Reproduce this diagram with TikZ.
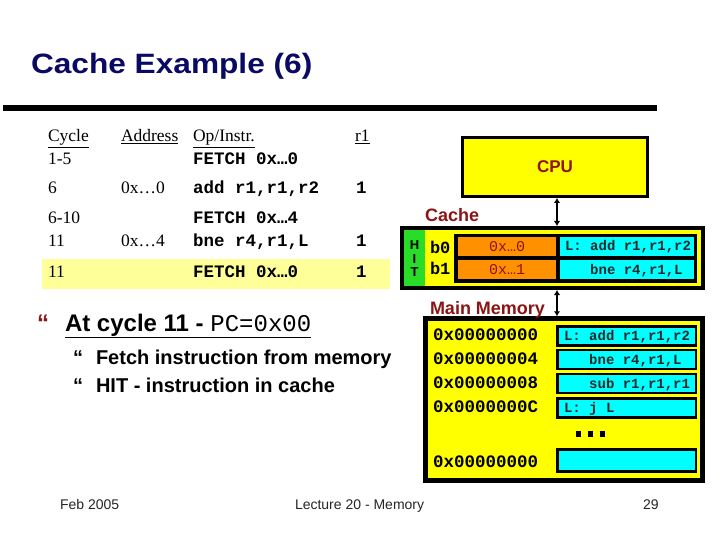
\documentclass[tikz,border=0pt]{standalone}
\usepackage{fontspec}
\setmainfont{Liberation Serif}
\setsansfont{Liberation Sans}
\setmonofont{Liberation Mono}
\newfontfamily\titlefont{Liberation Sans}[FakeStretch=1.13]
\usetikzlibrary{arrows.meta}
\definecolor{navy}{RGB}{10,10,100}
\definecolor{dred}{RGB}{140,20,20}
\definecolor{ylw}{RGB}{255,255,0}
\definecolor{pale}{RGB}{255,255,153}
\definecolor{cyn}{RGB}{0,255,255}
\definecolor{orng}{RGB}{255,145,0}
\definecolor{grn}{RGB}{40,220,40}
\definecolor{celltxt}{RGB}{40,40,40}
\newcommand{\fsz}[1]{\fontsize{#1}{#1}\selectfont}
\begin{document}
\begin{tikzpicture}[x=1pt,y=-1pt,
  txt/.style={anchor=base west, inner sep=0pt, outer sep=0pt},
  ser/.style={txt, font=\fsz{17.5}\rmfamily},
  mono/.style={txt, font=\fsz{17.5}\ttfamily\bfseries},
  bul/.style={txt, font=\fsz{20}\sffamily\bfseries},
  foot/.style={txt, font=\fsz{14}\sffamily, text=black!85},
  lbl/.style={txt, font=\fsz{18}\sffamily\bfseries, text=dred},
  blk/.style={draw=black, line width=#1},
  cell/.style={draw=black, line width=2.5pt, fill=cyn, minimum width=138.5, minimum height=19, inner sep=0pt},
  ctext/.style={txt, font=\fsz{14}\ttfamily\bfseries, text=celltxt},
  addr/.style={txt, font=\fsz{17.5}\ttfamily\bfseries},
  dbl/.style={line width=2.5pt, {Latex[length=5pt,width=6.5pt]}-{Latex[length=5pt,width=6.5pt]}},
]
\useasboundingbox[fill=white] (0,0) rectangle (720,540);

% title and rule
\node[txt, font=\fsz{28}\titlefont\bfseries, text=navy] (title) at (31,73.5) {Cache Example (6)};
\fill[black] (3,105) rectangle (657,111);

% highlighted row
\fill[pale] (42,259) rectangle (390,289);

% table
\node[ser] (hc) at (48,142) {\underline{Cycle}};
\node[ser] (ha) at (121,142) {\underline{Address}};
\node[ser] (ho) at (193,142) {\underline{Op/Instr.}};
\node[ser] (hr) at (355,142) {\underline{r1}};

\node[ser] (c1) at (48,165) {1-5};
\node[mono] (o1) at (193,165) {FETCH 0x…0};

\node[ser] (c2) at (48,194) {6};
\node[ser] (a2) at (121,194) {0x…0};
\node[mono] (o2) at (193,194) {add r1,r1,r2};
\node[mono] (r2) at (356,194) {1};

\node[ser] (c3) at (48,223) {6-10};
\node[mono] (o3) at (193,223) {FETCH 0x…4};

\node[ser] (c4) at (48,247) {11};
\node[ser] (a4) at (121,247) {0x…4};
\node[mono] (o4) at (193,247) {bne r4,r1,L};
\node[mono] (r4) at (356,247) {1};

\node[ser] (c5) at (48,277) {11};
\node[mono] (o5) at (193,277) {FETCH 0x…0};
\node[mono] (r5) at (356,277) {1};

% bullets
\node[txt, font=\fsz{24}\sffamily\bfseries, text=dred] (m0) at (37,331) {“};
\node[txt, font=\fsz{24}\sffamily\bfseries] (b0) at (65,331) {\underline{At cycle 11 - {\mdseries\ttfamily PC=0x00}}};
\node[txt, font=\fsz{20}\sffamily\bfseries] (m1) at (73,364) {“};
\node[bul] (b1) at (96,364) {Fetch instruction from memory};
\node[txt, font=\fsz{20}\sffamily\bfseries] (m2) at (73,392) {“};
\node[bul] (b2) at (96,392) {HIT - instruction in cache};

% CPU
\node[blk=3pt, fill=ylw, minimum width=185, minimum height=59, inner sep=0pt,
      font=\fsz{17}\sffamily\bfseries, text=dred] (cpu) at (555,167) {CPU};

% Cache
\node[lbl] (cachelbl) at (425,222) {Cache};
\node[blk=4pt, fill=ylw, minimum width=301, minimum height=60, inner sep=0pt] (cache) at (552.5,258) {};
\node[fill=grn, minimum width=21, minimum height=56, inner sep=0pt] (hit) at (414.5,258) {};
\node[font=\fsz{13}\sffamily\bfseries, inner sep=0pt] (hH) at (414.5,245.5) {H};
\node[font=\fsz{13}\sffamily\bfseries, inner sep=0pt] (hI) at (414.5,259) {I};
\node[font=\fsz{13}\sffamily\bfseries, inner sep=0pt] (hT) at (414.5,272.5) {T};
\node[fill=black, minimum width=243, minimum height=49, inner sep=0pt] (lines) at (575.5,258.5) {};
\node[fill=orng, minimum width=98, minimum height=19, inner sep=0pt,
      font=\fsz{15}\ttfamily, text=dred] (tag0) at (507,246.5) {0x…0};
\node[fill=orng, minimum width=98, minimum height=19, inner sep=0pt,
      font=\fsz{15}\ttfamily, text=dred] (tag1) at (507,269.5) {0x…1};
\node[fill=cyn, minimum width=134, minimum height=19, inner sep=0pt] (d0) at (627,246.5) {};
\node[fill=cyn, minimum width=134, minimum height=19, inner sep=0pt] (d1) at (627,269.5) {};
\node[ctext] (d0t) at (565,251) {L: add r1,r1,r2};
\node[ctext] (d1t) at (565,274) {\ \ \ bne r4,r1,L};
\node[txt, font=\fsz{17}\ttfamily\bfseries] (bb0) at (430,253) {b0};
\node[txt, font=\fsz{17}\ttfamily\bfseries] (bb1) at (430,274) {b1};

% Main memory
\node[blk=4.5pt, fill=ylw, minimum width=277, minimum height=162, inner sep=0pt] (mem) at (564,399.5) {};
\node[lbl] (memlbl) at (430,314) {Main Memory};
\node[cell] (m1c) at (626.5,336) {};
\node[cell] (m2c) at (626.5,359.5) {};
\node[cell] (m3c) at (626.5,383.5) {};
\node[cell] (m4c) at (626.5,408) {};
\node[cell, minimum height=22] (m5c) at (626.5,460.5) {};
\node[ctext] at (564,340) {L: add r1,r1,r2};
\node[ctext] at (564,364) {\ \ \ bne r4,r1,L};
\node[ctext] at (564,388) {\ \ \ sub r1,r1,r1};
\node[ctext] at (564,412) {L: j L};
\node[addr] (ad1) at (433,340) {0x00000000};
\node[addr] (ad2) at (433,364) {0x00000004};
\node[addr] (ad3) at (433,388) {0x00000008};
\node[addr] (ad4) at (433,412) {0x0000000C};
\node[addr] (ad5) at (433,467) {0x00000000};
\fill[black] (576,431) rectangle (581,437);
\fill[black] (588,431) rectangle (593,437);
\fill[black] (600,431) rectangle (605,437);

% connectors
\coordinate (ax) at (557,0);
\draw[dbl] (ax |- cpu.south) -- (ax |- cache.north);
\draw[dbl] (ax |- cache.south) -- (ax |- mem.north);

% footer
\node[foot] (f1) at (60,509) {Feb 2005};
\node[foot] (f2) at (295,509) {Lecture 20 - Memory};
\node[foot] (f3) at (643,509) {29};
\end{tikzpicture}
\end{document}
